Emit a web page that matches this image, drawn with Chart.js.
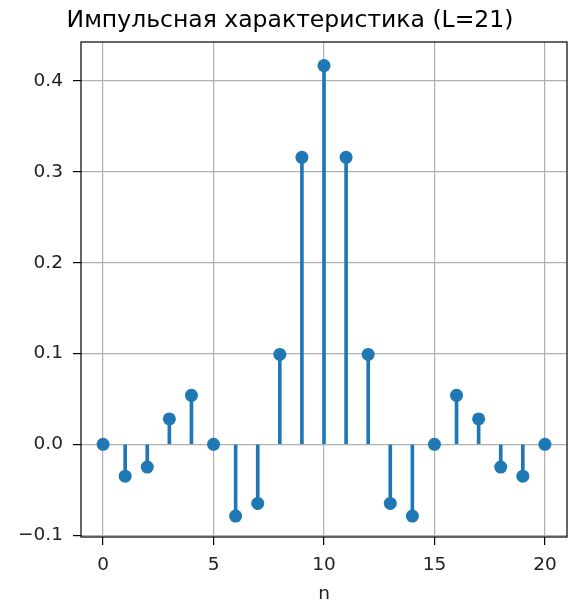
<!DOCTYPE html>
<html>
<head>
<meta charset="utf-8">
<script src="https://cdn.jsdelivr.net/npm/chart.js@4"></script>
<style>
  html, body { margin: 0; padding: 0; background: #fff; }
  #wrap { width: 579px; height: 607px; }
</style>
</head>
<body>
<div id="wrap"><canvas id="myChart"></canvas></div>
<script>
const n = [0, 1, 2, 3, 4, 5, 6, 7, 8, 9, 10, 11, 12, 13, 14, 15, 16, 17, 18, 19, 20]
const h = [0, -0.035, -0.025, 0.028, 0.054, 0, -0.079, -0.065, 0.099, 0.316, 0.417,
           0.316, 0.099, -0.065, -0.079, 0, 0.054, 0.028, -0.025, -0.035, 0]
const xTicks = [0, 5, 10, 15, 20]
const yTicks = [-0.1, 0.0, 0.1, 0.2, 0.3, 0.4]

Chart.defaults.font.family = "'DejaVu Sans', sans-serif"
Chart.defaults.color = '#222'

const blue = '#1f77b4'

// frame round the plot area, like matplotlib spines
const frame = {
    id: 'frame',
    afterDraw(chart) {
        const a = chart.chartArea
        const ctx = chart.ctx
        ctx.save()
        ctx.strokeStyle = '#000'
        ctx.lineWidth = 1.2
        ctx.strokeRect(a.left, a.top, a.right - a.left, a.bottom - a.top)
        ctx.restore()
    }
}

const data = {
    datasets: [{
        type: 'scatter',
        data: n.map((x, i) => ({ x: x, y: h[i] })),
        backgroundColor: blue,
        borderColor: blue,
        pointRadius: 6.5,
        borderWidth: 0,
        order: 1
    }, {
        type: 'bar',
        data: n.map((x, i) => ({ x: x, y: [0, h[i]] })),
        backgroundColor: blue,
        barThickness: 3,
        order: 2
    }]
};

const config = {
    type: 'bar',
    data: data,
    options: {
        responsive: true,
        maintainAspectRatio: false,
        animation: false,
        layout: { padding: { left: 13, right: 12, top: 0, bottom: 0 } },
        plugins: {
            legend: { display: false },
            tooltip: { enabled: false },
            title: {
                display: true,
                text: 'Импульсная характеристика (L=21)',
                font: { size: 23.5, weight: 'normal' },
                color: '#000',
                padding: { top: 7, bottom: 6.8 }
            }
        },
        scales: {
            x: {
                type: 'linear',
                min: -1,
                max: 21,
                offset: false,
                afterBuildTicks: s => { s.ticks = xTicks.map(v => ({ value: v })) },
                afterFit: s => { s.height = 70 },
                ticks: { font: { size: 18.5 }, padding: 9, color: '#222' },
                grid: { color: '#b0b0b0', lineWidth: 1.2, tickLength: 8, tickColor: '#000', offset: false },
                border: { display: false },
                title: { display: true, text: 'n', font: { size: 18.5 }, color: '#222', padding: { top: 2, bottom: 2 } }
            },
            y: {
                type: 'linear',
                min: -0.102,
                max: 0.443,
                afterBuildTicks: s => { s.ticks = yTicks.map(v => ({ value: v })) },
                afterFit: s => { s.width = 68 },
                ticks: {
                    font: { size: 18.5 }, padding: 10, color: '#222',
                    callback: v => (v < 0 ? '\u2212' : '') + Math.abs(v).toFixed(1)
                },
                grid: { color: '#b0b0b0', lineWidth: 1.2, tickLength: 8, tickColor: '#000' },
                border: { display: false }
            }
        }
    },
    plugins: [frame]
};

const myChart = new Chart(document.getElementById('myChart'), config);
</script>
</body>
</html>
